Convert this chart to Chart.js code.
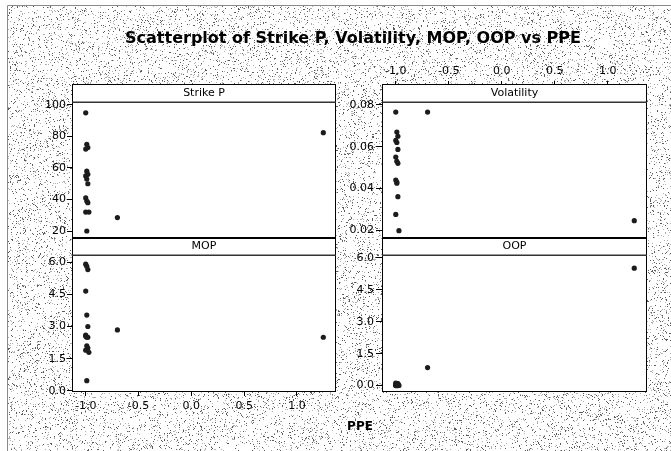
<!DOCTYPE html>
<html>
<head>
<meta charset="utf-8">
<title>Scatterplot of Strike P, Volatility, MOP, OOP vs PPE</title>
<script src="https://cdn.jsdelivr.net/npm/chart.js@4.4.1/dist/chart.umd.min.js"></script>
<style>
  html, body { margin: 0; padding: 0; background: #fff; }
  #figure { position: relative; width: 671px; height: 451px; overflow: hidden;
            font-family: "DejaVu Sans", Verdana, sans-serif; }
  #bg, .panel { position: absolute; left: 0; top: 0; }
  .label { position: absolute; white-space: nowrap; transform: translate(-50%, -50%);
           font-weight: bold; color: #000; line-height: 1; }
  #judul { left: 353px; top: 38px; font-size: 16px; }
  #sumbuX { left: 360px; top: 426px; font-size: 12px; }
</style>
</head>
<body>
<div id="figure">
  <canvas id="bg" width="671" height="451"></canvas>
  <canvas class="panel" id="pStrike" width="671" height="451"></canvas>
  <canvas class="panel" id="pVol" width="671" height="451"></canvas>
  <canvas class="panel" id="pMop" width="671" height="451"></canvas>
  <canvas class="panel" id="pOop" width="671" height="451"></canvas>
  <div class="label" id="judul">Scatterplot of Strike P, Volatility, MOP, OOP vs PPE</div>
  <div class="label" id="sumbuX">PPE</div>
</div>
<script>
// =================================================================
// DATA: satu baris per observasi (PPE sama untuk keempat panel)
// =================================================================
const ppe        = [-1.00, -0.99, -0.98, -1.00, -0.99, -0.98, -1.00, -0.99, -0.98, -1.00, -0.99, -0.98, -1.00, -0.97, -0.99, -0.70, 1.25];
const strikeP    = [95, 75, 73, 72, 58, 56, 55, 53, 50, 41, 39, 38, 32, 32, 20, 28.5, 82.4];
const volatility = [0.0766, 0.0670, 0.0650, 0.0630, 0.0620, 0.0587, 0.0550, 0.0530, 0.0520, 0.0440, 0.0430, 0.0360, 0.0275, 0.0197, 0.0425, 0.0766, 0.0245];
const mop        = [5.90, 5.80, 5.65, 4.65, 3.53, 3.00, 2.60, 2.50, 2.50, 2.55, 2.10, 2.00, 1.90, 1.80, 0.48, 2.84, 2.50];
const oop        = [0.05, 0.00, 0.10, 0.02, 0.08, 0.00, 0.12, 0.04, 0.06, 0.00, 0.10, 0.03, 0.07, 0.01, 0.05, 0.85, 5.52];

// label sumbu
const xTicks      = [-1.0, -0.5, 0.0, 0.5, 1.0];
const strikeTicks = [20, 40, 60, 80, 100];
const volTicks    = [0.02, 0.04, 0.06, 0.08];
const mopTicks    = [0.0, 1.5, 3.0, 4.5, 6.0];
const oopTicks    = [0.0, 1.5, 3.0, 4.5, 6.0];

const W = 671, H = 451;
const FONT = '"DejaVu Sans", Verdana, sans-serif';

// =================================================================
// LATAR BELAKANG BERBINTIK + BINGKAI
// =================================================================
function hash(x, y) {
    let h = (x * 374761393 + y * 668265263) | 0;
    h = Math.imul(h ^ (h >>> 13), 1274126177);
    return ((h ^ (h >>> 16)) >>> 0) / 4294967296;
}

(function gambarLatar() {
    const ctx = document.getElementById('bg').getContext('2d');
    const img = ctx.createImageData(W, H);
    for (let y = 0; y < H; y++) {
        for (let x = 0; x < W; x++) {
            let v = 255;
            if (x > 7 && y > 5) {
                const r = hash(x, y);
                if (r < 0.05) v = 90;
                else if (r < 0.11) v = 175;
            }
            const i = (y * W + x) * 4;
            img.data[i] = img.data[i + 1] = img.data[i + 2] = v;
            img.data[i + 3] = 255;
        }
    }
    ctx.putImageData(img, 0, 0);
    ctx.strokeStyle = '#8a8a8a';
    ctx.lineWidth = 1;
    ctx.beginPath();
    ctx.moveTo(7.5, H); ctx.lineTo(7.5, 5.5); ctx.lineTo(W, 5.5);
    ctx.stroke();
})();

// =================================================================
// PLUGIN: kotak panel putih + strip judul panel
// =================================================================
const panelFrame = {
    id: 'panelFrame',
    beforeDraw(chart) {
        const { ctx, chartArea: a } = chart;
        ctx.save();
        ctx.fillStyle = '#fff';
        ctx.fillRect(a.left, a.top, a.right - a.left, a.bottom - a.top);
        ctx.restore();
    },
    afterDraw(chart, args, opts) {
        const { ctx, chartArea: a } = chart;
        const s = opts.strip;
        ctx.save();
        ctx.fillStyle = '#fff';
        ctx.fillRect(a.left, a.top - s, a.right - a.left, s);
        ctx.strokeStyle = '#000';
        ctx.lineWidth = 1;
        ctx.strokeRect(a.left + 0.5, a.top - s + 0.5, a.right - a.left - 1, a.bottom - a.top + s - 1);
        ctx.strokeStyle = '#333';
        ctx.lineWidth = 1.5;
        ctx.beginPath();
        ctx.moveTo(a.left, a.top + 0.25);
        ctx.lineTo(a.right, a.top + 0.25);
        ctx.stroke();
        ctx.fillStyle = '#000';
        ctx.font = '11px ' + FONT;
        ctx.textAlign = 'center';
        ctx.textBaseline = 'middle';
        ctx.fillText(opts.label, (a.left + a.right) / 2, a.top - s / 2);
        ctx.restore();
    }
};

// =================================================================
// KONFIGURASI PANEL
// =================================================================
const Y_W = 40;   // lebar sumbu Y
const panels = [
    { id: 'pStrike', label: 'Strike P', values: strikeP, yTicks: strikeTicks, digits: 0,
      yMin: 15.56, yMax: 101.9, box: { left: 72, right: 336, top: 102, bottom: 238 },
      strip: 18, xAxis: null, tick: 5, pad: 1 },
    { id: 'pVol', label: 'Volatility', values: volatility, yTicks: volTicks, digits: 2,
      yMin: 0.01616, yMax: 0.08144, box: { left: 382, right: 647, top: 102, bottom: 238 },
      strip: 18, xAxis: 'top', tick: 6, pad: 2 },
    { id: 'pMop', label: 'MOP', values: mop, yTicks: mopTicks, digits: 1,
      yMin: -0.047, yMax: 6.326, box: { left: 72, right: 336, top: 255, bottom: 392 },
      strip: 17, xAxis: 'bottom', tick: 5, pad: 1 },
    { id: 'pOop', label: 'OOP', values: oop, yTicks: oopTicks, digits: 1,
      yMin: -0.30, yMax: 6.14, box: { left: 382, right: 647, top: 255, bottom: 392 },
      strip: 17, xAxis: null, tick: 6, pad: 2 }
];

function buatPanel(p) {
    // tinggi sumbu X: 0 kalau panel tidak menampilkan sumbu X
    const xH = p.xAxis === 'top' ? 36 : (p.xAxis === 'bottom' ? 22 : 0);
    const padding = {
        left: p.box.left - Y_W,
        right: W - p.box.right,
        top: p.box.top - (p.xAxis === 'top' ? xH : 0),
        bottom: H - p.box.bottom - (p.xAxis === 'bottom' ? xH : 0)
    };

    new Chart(document.getElementById(p.id), {
        type: 'scatter',
        data: {
            datasets: [{
                data: ppe.map((x, i) => ({ x: x, y: p.values[i] })),
                pointRadius: 2.6,
                pointBackgroundColor: '#1c1c1c',
                pointBorderWidth: 0
            }]
        },
        options: {
            responsive: false,
            devicePixelRatio: 1,
            animation: false,
            events: [],
            layout: { padding: padding },
            plugins: {
                legend: { display: false },
                tooltip: { enabled: false },
                panelFrame: { label: p.label, strip: p.strip }
            },
            scales: {
                x: {
                    type: 'linear',
                    display: p.xAxis !== null,
                    position: p.xAxis || 'bottom',
                    min: -1.13,
                    max: 1.37,
                    afterBuildTicks: s => { s.ticks = xTicks.map(v => ({ value: v })); },
                    afterFit: s => { s.height = xH; },
                    border: { display: false },
                    grid: {
                        drawOnChartArea: false,
                        color: '#000',
                        tickLength: p.xAxis === 'top' ? p.strip + 3 : 4
                    },
                    ticks: {
                        color: '#000',
                        padding: p.xAxis === 'top' ? 3 : 4,
                        maxRotation: 0,
                        font: { family: FONT, size: 11 },
                        callback: v => v.toFixed(1)
                    }
                },
                y: {
                    type: 'linear',
                    position: 'left',
                    min: p.yMin,
                    max: p.yMax,
                    afterBuildTicks: s => { s.ticks = p.yTicks.map(v => ({ value: v })); },
                    afterFit: s => { s.width = Y_W; },
                    border: { display: false },
                    grid: { drawOnChartArea: false, color: '#000', tickLength: p.tick },
                    ticks: {
                        color: '#000',
                        padding: p.pad,
                        font: { family: FONT, size: 11 },
                        callback: v => v.toFixed(p.digits)
                    }
                }
            }
        },
        plugins: [panelFrame]
    });
}

panels.forEach(buatPanel);
</script>
</body>
</html>
